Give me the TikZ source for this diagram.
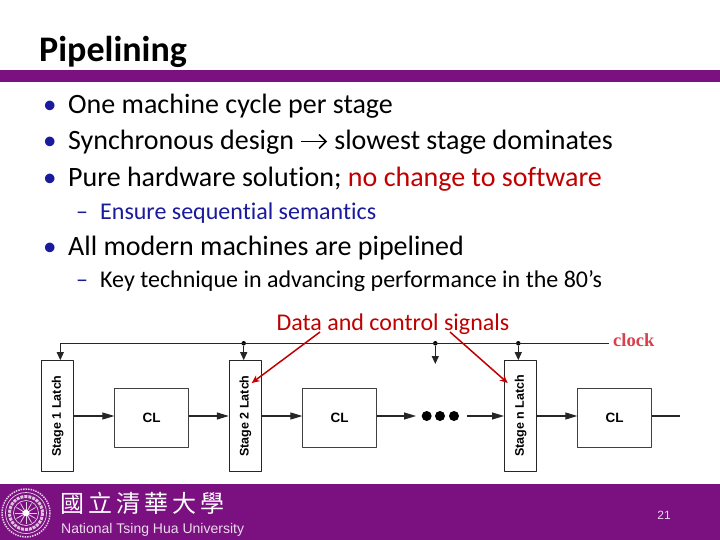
\documentclass[tikz,border=0pt]{standalone}
\usepackage{fontspec}
\setmainfont[Ligatures=NoCommon]{Carlito}
\newfontfamily\cjk{Noto Sans CJK TC}
\newfontfamily\arialf{Liberation Sans}
\newfontfamily\timesf{Liberation Serif}
\definecolor{nthu}{HTML}{7B1080}
\definecolor{darkred}{HTML}{C00000}
\definecolor{subblue}{HTML}{1A1A9C}
\definecolor{clockred}{HTML}{D8404C}
\usetikzlibrary{shapes.geometric,arrows.meta}
\tikzset{
	txt/.style={anchor=base west,inner sep=0pt,font=\fontsize{28}{28}\selectfont},
	subtxt/.style={anchor=base west,inner sep=0pt,font=\fontsize{24}{24}\selectfont},
	latch/.style={draw=black!85,line width=1pt,rotate=90,minimum width=110.6pt,minimum height=32.4pt,inner sep=0pt,font=\arialf\bfseries\fontsize{12.5}{12.5}\selectfont},
	clbox/.style={draw=black!75,line width=1pt,minimum width=73.4pt,minimum height=59.6pt,inner sep=0pt,font=\arialf\bfseries\fontsize{13.5}{13.5}\selectfont},
	wire/.style={draw=black!85,line width=1.1pt},
	sig/.style={wire,-{Triangle[length=12pt,width=7pt]}},
	clk/.style={wire,-{Triangle[length=8pt,width=7pt]}},
	redarrow/.style={draw=darkred,line width=1.5pt,-{Stealth[length=8pt,width=7pt]}},
	pt/.style={circle,fill=black,inner sep=0pt,minimum size=4.5pt},
	bigdot/.style={circle,fill=black,inner sep=0pt,minimum size=10pt},
}
\newcommand{\blt}{\makebox[25pt][l]{\textcolor{subblue}{\fontsize{27}{27}\selectfont •}}}
\newcommand{\dsh}{\makebox[24pt][l]{\textcolor{subblue}{–}}}
\begin{document}
\begin{tikzpicture}[x=1pt,y=-1pt,line join=round]
	\useasboundingbox (0,0) rectangle (720,540);
	\fill[white] (0,0) rectangle (720,540);
	% bars
	\fill[nthu] (0,70) rectangle (720,82);
	\fill[nthu] (0,484) rectangle (720,540);
	% heading
	\node[anchor=base west,inner sep=0pt,font=\bfseries\fontsize{36}{36}\selectfont] (title) at (39,61.5) {Pipelining};
	% text
	\node[txt] (b1) at (43,114) {\blt One machine cycle per stage};
	\node[txt] (b2) at (43,150) {\blt Synchronous design \tikz[baseline]\draw[-{Straight Barb[length=7pt,width=14pt,line width=1.6pt]},line width=1.6pt] (0,8.5pt)--(26pt,8.5pt);\ slowest stage dominates};
	\node[txt] (b3) at (43,187) {\blt Pure hardware solution; \textcolor{darkred}{no change to software}};
	\node[subtxt] (s1) at (76,219) {\dsh\textcolor{subblue}{Ensure sequential semantics}};
	\node[txt] (b4) at (43,255) {\blt All modern machines are pipelined};
	\node[subtxt] (s2) at (76,287) {\dsh Key technique in advancing performance in the 80’s};
	% pipeline
	\node[latch] (l1) at (57.7,416) {Stage 1 Latch};
	\node[clbox] (c1) at (151.5,418) {CL};
	\node[latch] (l2) at (245.5,416) {Stage 2 Latch};
	\node[clbox] (c2) at (339.6,418) {CL};
	\node[bigdot] (d1) at (426.7,416) {};
	\node[bigdot] (d2) at (440,416) {};
	\node[bigdot] (d3) at (454,416) {};
	\node[latch] (ln) at (520.7,416) {Stage n Latch};
	\node[clbox] (c3) at (614.5,418) {CL};
	\coordinate (out) at (680,416);
	\coordinate (gapa) at (416,416);
	\coordinate (gapb) at (467,416);
	\draw[sig] (l1.south|-0,416)--(c1.west|-0,416);
	\draw[sig] (c1.east|-0,416)--(l2.north|-0,416);
	\draw[sig] (l2.south|-0,416)--(c2.west|-0,416);
	\draw[sig] (c2.east|-0,416)--(gapa);
	\draw[sig] (gapb)--(ln.north|-0,416);
	\draw[sig] (ln.south|-0,416)--(c3.west|-0,416);
	\draw[wire] (c3.east|-0,416)--(out);
	% clock
	\coordinate (ck0) at (60.3,343.3);
	\coordinate (ck1) at (609,343.3);
	\node[pt] (p2) at (243.7,343.3) {};
	\node[pt] (p3) at (435.3,343.3) {};
	\node[pt] (pn) at (518.3,343.3) {};
	\coordinate (drop) at (435.3,364);
	\draw[wire] (ck0)--(ck1);
	\draw[clk] (ck0)--(ck0|-l1.east);
	\draw[clk] (p2)--(p2|-l2.east);
	\draw[clk] (p3)--(drop);
	\draw[clk] (pn)--(pn|-ln.east);
	\node[anchor=base west,inner sep=0pt,text=clockred,font=\timesf\bfseries\fontsize{18.5}{18.5}\selectfont] (ck) at (613,346) {clock};
	% red callout
	\node[inner sep=0pt,text=darkred,font=\fontsize{24}{24}\selectfont] (sigs) at (393,324) {Data and control signals};
	\coordinate (fa) at (320,332);
	\coordinate (fb) at (450,332);
	\coordinate (ta) at (251.7,383);
	\coordinate (tb) at (507.7,383);
	\draw[redarrow] (fa)--(ta);
	\draw[redarrow] (fb)--(tb);
	% seal
	\draw[white!80!nthu,densely dotted,line width=1.5pt] (26,513) circle (24);
	\draw[white!80!nthu,line width=0.7pt] (26,513) circle (20.5);
	\draw[white!75!nthu,line width=3pt,densely dotted] (26,513) circle (16.5);
	\draw[white!80!nthu,line width=0.7pt] (26,513) circle (12.5);
	\foreach \a in {0,30,...,330}
		\draw[white!80!nthu,line width=0.8pt] (26,513)--++(\a:11);
	\node[star,star points=5,fill=white,inner sep=0pt,minimum size=8pt] (seal) at (26,513) {};
	% footer
	\node[text=white,inner sep=0pt,font=\cjk\fontsize{24}{24}\selectfont] (cn) at (142.5,503) {國\hspace{4pt}立\hspace{4pt}清\hspace{4pt}華\hspace{4pt}大\hspace{4pt}學};
	\node[anchor=base west,inner sep=0pt,text=white!85!nthu,font=\arialf\fontsize{14}{14}\selectfont] (nthuname) at (61,533) {National Tsing Hua University};
	\node[inner sep=0pt,text=white!85!nthu,font=\arialf\fontsize{12}{12}\selectfont] (pg) at (664,515) {21};
\end{tikzpicture}
\end{document}
